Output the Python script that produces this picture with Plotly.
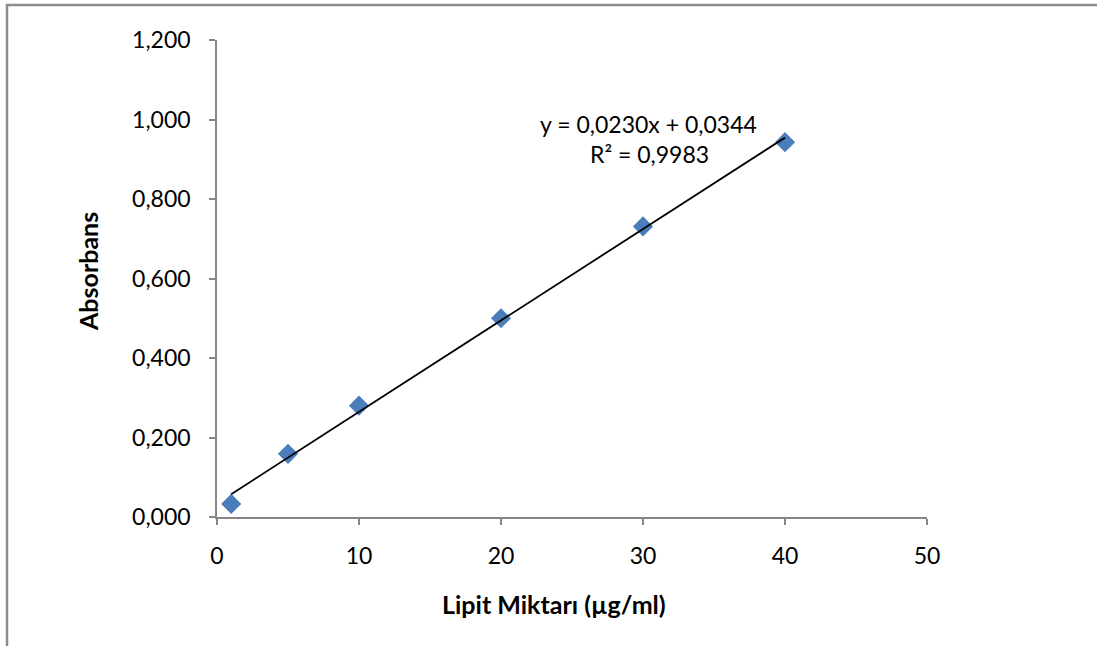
import plotly.graph_objects as go
import numpy as np

# Data
lipit = [1, 5, 10, 20, 30, 40]
absorbans = [0.033, 0.159, 0.280, 0.500, 0.731, 0.943]
slope = 0.0230
intercept = 0.0344
eq_text = "y = 0,0230x + 0,0344"
r2_text = "R² = 0,9983"
x_title = "Lipit Miktarı (µg/ml)"
y_title = "Absorbans"
x_ticks = [0, 10, 20, 30, 40, 50]
y_ticks = [0, 0.2, 0.4, 0.6, 0.8, 1.0, 1.2]

FONT = "Lato"
W, H = 1097, 646
L, R, T, B = 217, 170, 40, 129
pw, ph = W - L - R, H - T - B

def px_x(px):
    return (px - L) / pw

def px_y(py):
    return (H - B - py) / ph

xl = np.array([min(lipit), max(lipit)], dtype=float)
yl = slope * xl + intercept

fig = go.Figure()
fig.add_trace(go.Scatter(
    x=lipit, y=absorbans, mode="markers",
    marker=dict(symbol="diamond", size=15.5, color="#4A7EBB",
                line=dict(width=0)),
    showlegend=False, cliponaxis=False))
fig.add_trace(go.Scatter(
    x=xl, y=yl, mode="lines",
    line=dict(color="black", width=1.8),
    showlegend=False))

axis_common = dict(showgrid=False, zeroline=False, showline=True,
                   linecolor="#868686", linewidth=1.5, ticks="outside",
                   ticklen=6, tickcolor="#868686", tickwidth=1.5,
                   tickfont=dict(family=FONT, size=23, color="black"))

fig.update_xaxes(range=[0, 50], tickvals=x_ticks, ticktext=[str(v) for v in x_ticks],
                 ticklabelstandoff=12, **axis_common)
fig.update_yaxes(range=[0, 1.2], tickvals=y_ticks, tickformat=".3f",
                 ticklabelstandoff=14, **axis_common)

def note(px, py, text, size, angle=0):
    fig.add_annotation(x=px_x(px), y=px_y(py), xref="paper", yref="paper",
                       xanchor="center", yanchor="middle",
                       text=text, showarrow=False, textangle=angle,
                       font=dict(family=FONT, size=size, color="black"))

note(554, 604, "<b>" + x_title + "</b>", 25)
note(88, 272, "<b>" + y_title + "</b>", 25, -90)
note(648, 124, eq_text, 23)
note(649, 154, r2_text, 23)

# outer chart border (extends past the right and bottom edges)
fig.add_shape(type="rect", xref="paper", yref="paper",
              x0=px_x(7), x1=px_x(1150), y0=px_y(700), y1=px_y(5),
              line=dict(color="#8C8C8C", width=2.5), layer="below")

fig.update_layout(
    width=W, height=H,
    margin=dict(l=L, r=R, t=T, b=B),
    paper_bgcolor="white", plot_bgcolor="white",
    separators=", ",
    font=dict(family=FONT, color="black"),
)

fig.write_html("out.html")
